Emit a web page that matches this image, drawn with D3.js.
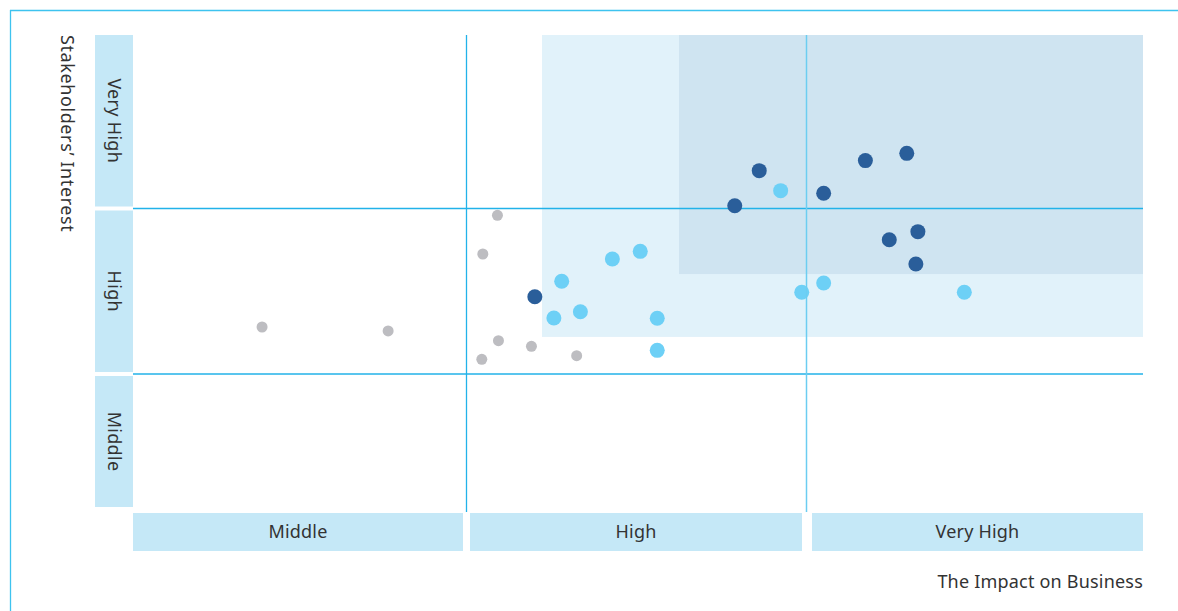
<!DOCTYPE html>
<html>
<head>
<meta charset="utf-8">
<script src="https://cdn.jsdelivr.net/npm/d3@7"></script>
<style>
  html, body { margin: 0; padding: 0; background: #fff; }
  svg { display: block; }
  text { font-family: "Noto Sans", "Open Sans", sans-serif; fill: #333; }
</style>
</head>
<body>
<svg id="chart" width="1178" height="611"></svg>
<script>
// ---- data ----
const xCategories = ["Middle", "High", "Very High"];
const yCategories = ["Middle", "High", "Very High"];
const xTitle = "The Impact on Business";
const yTitle = "Stakeholders\u2019 Interest";

// highlighted zones [x0, y0] (extending to top-right corner)
const zoneLight = [1.222, 1.224];
const zoneDark = [1.625, 1.604];

// points: [impact, interest]
const grayPoints = [
  [0.387, 1.284], [0.765, 1.260], [1.091, 1.959], [1.048, 1.725],
  [1.094, 1.201], [1.045, 1.089], [1.191, 1.167], [1.324, 1.111]
];
const lightPoints = [
  [1.280, 1.560], [1.257, 1.338], [1.335, 1.376], [1.429, 1.695],
  [1.511, 1.741], [1.561, 1.337], [1.561, 1.143], [1.924, 2.103],
  [1.986, 1.494], [2.051, 1.550], [2.469, 1.494]
];
const darkPoints = [
  [1.201, 1.467], [1.861, 2.218], [2.175, 2.276], [2.298, 2.318],
  [2.051, 2.088], [1.789, 2.016], [2.246, 1.811], [2.331, 1.860],
  [2.325, 1.665]
];

// ---- scales ----
const svg = d3.select("#chart");
const x = d3.scaleLinear().domain([0, 1, 2, 3]).range([133, 466.5, 806.5, 1143]);
const y = d3.scaleLinear().domain([0, 1, 2, 3]).range([507, 374, 208.5, 35]);

// frame
svg.append("line").attr("x1", 10).attr("x2", 1178).attr("y1", 10.5).attr("y2", 10.5)
  .attr("stroke", "#3ec3ef").attr("stroke-width", 1.3);
svg.append("line").attr("x1", 10.5).attr("x2", 10.5).attr("y1", 10).attr("y2", 611)
  .attr("stroke", "#3ec3ef").attr("stroke-width", 1.3);

// zones
svg.append("rect")
  .attr("x", x(zoneLight[0])).attr("y", y(3))
  .attr("width", x(3) - x(zoneLight[0])).attr("height", y(zoneLight[1]) - y(3))
  .attr("fill", "#e1f2fa");
svg.append("rect")
  .attr("x", x(zoneDark[0])).attr("y", y(3))
  .attr("width", x(3) - x(zoneDark[0])).attr("height", y(zoneDark[1]) - y(3))
  .attr("fill", "#cfe4f1");

// category boxes: x
const boxFill = "#c5e8f7";
const gapL = [0, 3.5, 5.5], gapR = [3.5, 4.5, 0];
const gx = svg.append("g");
xCategories.forEach((c, i) => {
  const x0 = x(i) + gapL[i];
  const x1 = x(i + 1) - gapR[i];
  gx.append("rect").attr("x", x0).attr("y", 513).attr("width", x1 - x0).attr("height", 38)
    .attr("fill", boxFill);
  gx.append("text").attr("x", (x0 + x1) / 2).attr("y", 532).attr("dy", "0.35em")
    .attr("text-anchor", "middle").attr("font-size", 18).attr("letter-spacing", 0.2).text(c);
});

// category boxes: y
const gy = svg.append("g");
yCategories.forEach((c, i) => {
  const y0 = i === 0 ? y(0) : y(i) - 2;
  const y1 = i === 2 ? y(3) : y(i + 1) + 2;
  gy.append("rect").attr("x", 95).attr("y", y1).attr("width", 38).attr("height", y0 - y1)
    .attr("fill", boxFill);
  const cy = (y0 + y1) / 2;
  gy.append("text").attr("transform", `translate(114,${cy}) rotate(90)`)
    .attr("dy", "0.35em").attr("text-anchor", "middle").attr("font-size", 18)
    .attr("letter-spacing", 0.3).text(c);
});

// axis titles
svg.append("text").attr("transform", "translate(67,35) rotate(90)")
  .attr("dy", "0.35em").attr("text-anchor", "start").attr("font-size", 18)
  .attr("letter-spacing", 0.6).text(yTitle);
svg.append("text").attr("x", x(3)).attr("y", 582).attr("dy", "0.35em")
  .attr("text-anchor", "end").attr("font-size", 18).attr("letter-spacing", 0.2).text(xTitle);

// points under lines
svg.append("g").selectAll("circle").data(grayPoints).join("circle")
  .attr("cx", d => x(d[0])).attr("cy", d => y(d[1])).attr("r", 5.5).attr("fill", "#bdbdc1");
svg.append("g").selectAll("circle").data(lightPoints).join("circle")
  .attr("cx", d => x(d[0])).attr("cy", d => y(d[1])).attr("r", 7.5).attr("fill", "#6dd0f6");

// grid lines
[1, 2].forEach(v => {
  svg.append("line").attr("x1", x(0)).attr("x2", x(3)).attr("y1", y(v)).attr("y2", y(v))
    .attr("stroke", "#22b2e9").attr("stroke-width", 1.3);
});
svg.append("line").attr("x1", x(1)).attr("x2", x(1)).attr("y1", y(3)).attr("y2", 512)
  .attr("stroke", "#22b2e9").attr("stroke-width", 1.3);
svg.append("line").attr("x1", x(2)).attr("x2", x(2)).attr("y1", y(3)).attr("y2", 512)
  .attr("stroke", "#6ccdf1").attr("stroke-width", 1.5);

svg.append("g").selectAll("circle").data(darkPoints).join("circle")
  .attr("cx", d => x(d[0])).attr("cy", d => y(d[1])).attr("r", 7.5).attr("fill", "#2a5e9a");
</script>
</body>
</html>
